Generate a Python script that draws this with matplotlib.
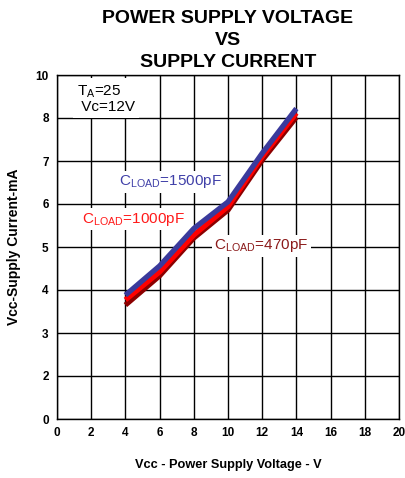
import numpy as np
import matplotlib
matplotlib.use("Agg")
import matplotlib.pyplot as plt

plt.rcParams['font.family'] = ['Liberation Sans', 'DejaVu Sans']

# Data
vcc = [4, 6, 8, 10, 12, 14]
i_1500 = [3.88, 4.56, 5.43, 6.05, 7.18, 8.44]
i_1000 = [3.77, 4.42, 5.28, 5.94, 7.10, 8.23]
i_470 = [3.65, 4.33, 5.21, 5.86, 7.02, 8.04]

x_ticks = [0, 2, 4, 6, 8, 10, 12, 14, 16, 18, 20]
y_tick_labels = [0, 2, 3, 4, 5, 6, 7, 8, 10]
y_positions = list(range(len(y_tick_labels)))

def fwd(v):
    return np.interp(v, y_tick_labels, y_positions)

def inv(p):
    return np.interp(p, y_positions, y_tick_labels)

fig = plt.figure(figsize=(4.05, 4.78), dpi=100)
ax = fig.add_axes([57/405, 1 - 419/478, (399-57)/405, (419-75)/478])
ax.set_yscale('function', functions=(fwd, inv))

ax.plot(vcc, i_470, color='#8b0000', lw=3.8, solid_capstyle='butt', zorder=3)
ax.plot(vcc, i_1000, color='#ff0000', lw=3.8, solid_capstyle='butt', zorder=4)
ax.plot(vcc, i_1500, color='#3a3a9c', lw=3.8, solid_capstyle='butt', zorder=5)

ax.set_xlim(0, 20)
ax.set_ylim(0, 10)
ax.set_xticks(x_ticks)
ax.set_yticks(y_tick_labels)
ax.set_xticklabels([str(t) for t in x_ticks], fontweight='bold', fontsize=8.5)
ax.set_yticklabels([str(t) for t in y_tick_labels], fontweight='bold', fontsize=8.5)
ax.tick_params(length=0, pad=6)
ax.grid(True, color='black', lw=1.0, zorder=1)
ax.set_axisbelow(True)
for s in ax.spines.values():
    s.set_color('black')
    s.set_linewidth(1.0)

bbox = dict(facecolor='white', edgecolor='none', pad=2)
ax.text(0.058, 0.975, 'T$_\\mathregular{A}$=25\n Vc=12V', fontsize=11, va='top', ha='left',
        transform=ax.transAxes,
        bbox=dict(facecolor='white', edgecolor='none', pad=3), linespacing=1.0, zorder=6)
ax.text(0.330, 0.689, 'C$_\\mathregular{LOAD}$=1500pF', color='#4040a8', fontsize=11,
        ha='center', va='center', bbox=bbox, zorder=2, transform=ax.transAxes)
ax.text(0.224, 0.581, 'C$_\\mathregular{LOAD}$=1000pF', color='#ff1a1a', fontsize=11,
        ha='center', va='center', bbox=bbox, zorder=2, transform=ax.transAxes)
ax.text(0.598, 0.503, 'C$_\\mathregular{LOAD}$=470pF', color='#8b1a1a', fontsize=11,
        ha='center', va='center', bbox=bbox, zorder=2, transform=ax.transAxes)

ax.set_title('POWER SUPPLY VOLTAGE\nVS\nSUPPLY CURRENT', fontweight='bold', fontsize=14,
             linespacing=1.38, pad=6)
ax.set_xlabel('Vcc - Power Supply Voltage - V', fontweight='bold', fontsize=9.2, labelpad=14)
ax.set_ylabel('Vcc-Supply Current-mA', fontweight='bold', fontsize=10)
ax.yaxis.set_label_coords(-(57 - 21) / 342, 0.5)

fig.savefig('out.png', dpi=100)
